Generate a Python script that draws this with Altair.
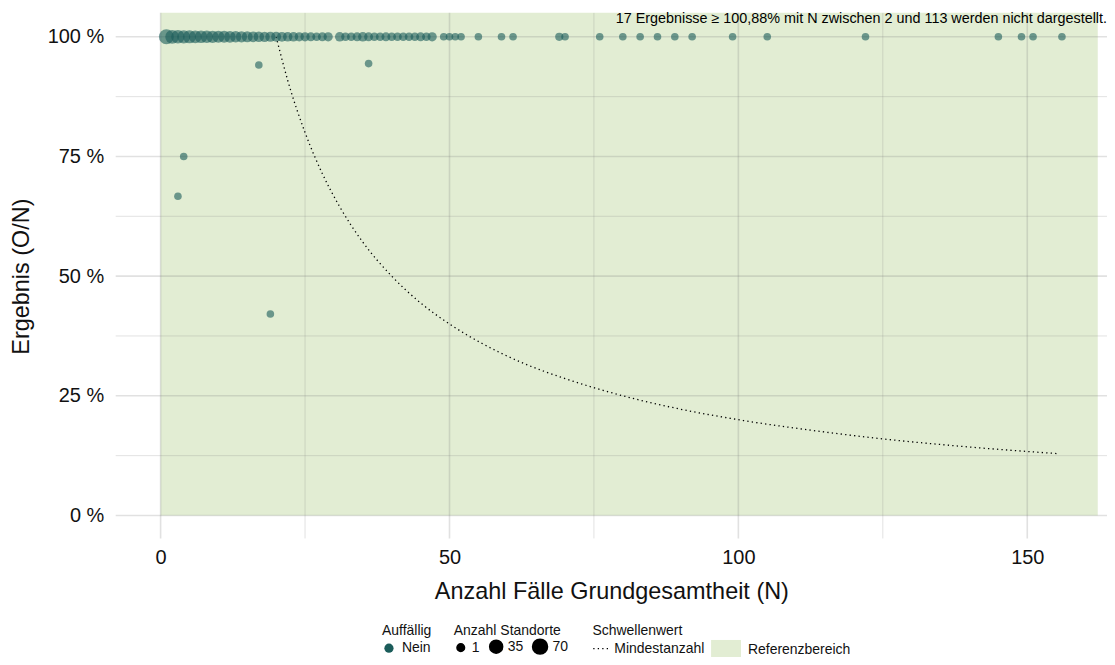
import altair as alt
import pandas as pd

# ---- data ----
# results at 100 %: case count N and number of sites (Standorte)
top_n = list(range(1, 30)) + list(range(31, 48)) + [49, 50, 51, 52, 55, 59, 61, 69, 70,
                                                     76, 80, 83, 86, 89, 92, 99, 105, 122,
                                                     145, 149, 151, 156]
top_count = [70, 48, 42, 38, 35, 32, 30, 28, 26, 24, 22, 20, 18, 16, 14, 12, 11, 10, 9, 8,
             7, 6, 6, 5, 5, 4, 3, 4, 5,
             6, 3, 3, 4, 6, 4, 3, 3, 4, 3, 3, 3, 3, 3, 4, 3, 5,
             1, 1, 1, 1, 1, 1, 1, 2, 1,
             1, 1, 1, 1, 1, 1, 1, 1, 1, 1, 1, 1, 1]
# results below 100 %
low_n = [3, 4, 17, 19, 36]
low_pct = [66.7, 75.0, 94.1, 42.1, 94.4]
low_count = [1, 1, 1, 1, 1]

# Mindestanzahl threshold curve
line_n = [20, 22, 25, 28, 31, 35, 40, 45, 50, 56, 63, 70, 80, 90, 100, 112, 125, 140, 155.5]
line_pct = [100, 90.9, 80, 71.4, 64.5, 57.1, 50, 44.4, 40, 35.7, 31.7, 28.6, 25, 22.2, 20,
            17.9, 16, 14.3, 12.9]

# Referenzbereich
ref_x = [0, 162.2]
ref_y = [0, 105]

x_major = [0, 50, 100, 150]
x_minor = [25, 75, 125]
y_major = [0, 25, 50, 75, 100]
y_minor = [12.5, 37.5, 62.5, 87.5]

note = "17 Ergebnisse \u2265 100,88% mit N zwischen 2 und 113 werden nicht dargestellt."

W, H = 994, 527
FONT = "Liberation Sans"
LFS = 14

pts = pd.DataFrame({
    "N": top_n + low_n,
    "pct": [100.0] * len(top_n) + low_pct,
    "count": top_count + low_count,
})
pts["auff"] = "Nein"
line_df = pd.DataFrame({"N": line_n, "pct": line_pct, "sw": "Mindestanzahl"})
ref_df = pd.DataFrame({"x1": [ref_x[0]], "x2": [ref_x[1]], "y1": [ref_y[0]], "y2": [ref_y[1]],
                       "bereich": ["Referenzbereich"]})

xs = alt.Scale(domain=[-7.77, 163.8], nice=False, zero=False)
ys = alt.Scale(domain=[-4.8, 105], nice=False, zero=False)

AX = alt.Axis(title="Anzahl Fälle Grundgesamtheit (N)", values=x_major,
              labelPadding=9, titleX=497, titleY=53, titleBaseline="middle")
AY = alt.Axis(title="Ergebnis (O/N)", values=y_major, labelExpr="datum.value + ' %'",
              labelPadding=12, titleX=-94.5, titleY=264, titleBaseline="middle",
              titleAngle=270)


def X(f):
    return alt.X(f, scale=xs, axis=AX)


def Y(f):
    return alt.Y(f, scale=ys, axis=AY)


rect = alt.Chart(ref_df).mark_rect().encode(
    x=X("x1:Q"),
    x2="x2:Q",
    y=Y("y1:Q"),
    y2="y2:Q",
    fill=alt.Fill("bereich:N",
                  scale=alt.Scale(domain=["Referenzbereich"], range=["#e2edd3"]),
                  legend=alt.Legend(title=None, orient="none", legendX=597, legendY=624,
                                    direction="horizontal", symbolType="M-1,-0.68H1V0.68H-1Z",
                                    symbolSize=900, symbolStrokeWidth=0, symbolOpacity=1,
                                    labelOffset=7)),
)


def vgrid(vals, w):
    return alt.Chart(pd.DataFrame({"v": vals})).mark_rule(
        color="#7f7f7f", opacity=0.23, strokeWidth=w).encode(
        x=X("v:Q"), y=alt.value(0), y2=alt.value(H))


def hgrid(vals, w):
    return alt.Chart(pd.DataFrame({"v": vals})).mark_rule(
        color="#7f7f7f", opacity=0.23, strokeWidth=w).encode(
        y=Y("v:Q"), x=alt.value(0), x2=alt.value(W))


line = alt.Chart(line_df).mark_line(color="black", strokeWidth=1.3, interpolate="monotone").encode(
    x=X("N:Q"),
    y=Y("pct:Q"),
    strokeDash=alt.StrokeDash("sw:N",
                              scale=alt.Scale(domain=["Mindestanzahl"], range=[[1.3, 3.2]]),
                              legend=alt.Legend(title="Schwellenwert", orient="none",
                                                legendX=478, legendY=613, direction="horizontal",
                                                symbolType="stroke", symbolStrokeColor="black",
                                                symbolStrokeWidth=1.3, symbolSize=300,
                                                labelOffset=3, titlePadding=1)),
)

points = alt.Chart(pts).mark_circle(opacity=0.6, stroke=None).encode(
    x=X("N:Q"),
    y=Y("pct:Q"),
    color=alt.Color("auff:N", scale=alt.Scale(domain=["Nein"], range=["#1b5c5a"]),
                    legend=alt.Legend(title="Auffällig", orient="none", legendX=267, legendY=613,
                                      direction="horizontal", symbolOpacity=1, symbolSize=85,
                                      symbolType="circle", titlePadding=3, labelOffset=6)),
    size=alt.Size("count:Q", scale=alt.Scale(type="sqrt", domain=[1, 70], range=[58, 225]),
                  legend=alt.Legend(title="Anzahl Standorte", values=[1, 35, 70], orient="none",
                                    legendX=339, legendY=613, direction="horizontal",
                                    symbolFillColor="black", symbolStrokeColor="black",
                                    symbolOpacity=1, symbolType="circle", titlePadding=0,
                                    labelOffset=4, columnPadding=6)),
)

text = alt.Chart(pd.DataFrame({"t": [note]})).mark_text(
    align="right", baseline="middle", fontSize=14.4, font=FONT, color="black").encode(
    x=alt.value(W), y=alt.value(6), text="t:N")

chart = alt.layer(
    rect, vgrid(x_minor, 1.0), hgrid(y_minor, 1.0), vgrid(x_major, 1.6), hgrid(y_major, 1.6),
    line, points, text
).resolve_legend(
    color="independent", size="independent", strokeDash="independent", fill="independent"
).properties(
    width=W, height=H,
    autosize=alt.AutoSizeParams(type="none"),
    padding={"left": 108, "top": 4, "right": 0, "bottom": 118},
    background="white",
).configure_view(stroke=None).configure_axis(
    domain=False, ticks=False, tickSize=0, grid=False,
    labelFont=FONT, titleFont=FONT, labelFontSize=20, titleFontSize=23.5,
    labelColor="#111111", titleColor="#111111", titleFontWeight="normal",
).configure_legend(
    labelFont=FONT, titleFont=FONT, labelFontSize=LFS, titleFontSize=LFS,
    titleFontWeight="normal", labelColor="#111111", titleColor="#111111", padding=0,
)

chart.save("out.html", embed_options={"renderer": "svg", "actions": False})
